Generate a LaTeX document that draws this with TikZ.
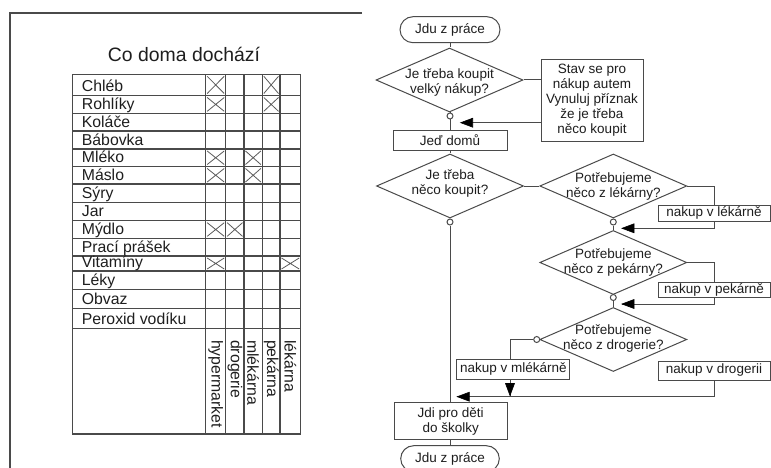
\documentclass[tikz,border=0pt]{standalone}
\usepackage{fontspec}
\setmainfont{Liberation Sans}
\usetikzlibrary{shapes.geometric,calc}
\definecolor{linec}{HTML}{4A4A4A}
\definecolor{tabc}{HTML}{4A4A4A}
\definecolor{xc}{HTML}{5A5A5A}
\definecolor{txtc}{HTML}{1E1E1E}
\tikzset{
  ln/.style={draw=linec, line width=1pt},
  fc/.style={font=\fontsize{13.5}{15}\selectfont, text=txtc},
  term/.style={ln, fc, rounded corners=13pt, minimum width=100pt, minimum height=26pt, inner sep=0pt},
  dec/.style={ln, diamond, inner sep=0pt, minimum width=147pt, minimum height=64pt},
  dtext/.style={fc, align=center, inner sep=0pt},
  box/.style={ln, fc, fill=white, inner sep=0pt, align=center},
  dot/.style={ln, circle, fill=white, inner sep=0pt, minimum size=6pt},
  tipc/.style={fill=black, draw=black, line width=0.6pt, line join=miter},
  tab/.style={draw=tabc, line width=1.2pt},
  xm/.style={draw=xc, line width=0.8pt},
  tt/.style={font=\fontsize{15.8}{18}\selectfont, text=txtc, inner sep=0pt}
}
\begin{document}
\begin{tikzpicture}[x=1pt,y=-1pt]
\useasboundingbox (0,0) rectangle (771,468);

% ---------- left panel ----------
\draw[tab] (362,13) -- (10,13) -- (10,470);
\node[font=\fontsize{19.4}{22}\selectfont, text=txtc, anchor=base, inner sep=0pt] (title) at (184,61.5) {Co doma dochází};

\foreach \y in {95.5,113.3,131,149,166.5,184,202.7,220.7,238.3,256,271,289.3,308.3,328.3}
  \draw[tab] (72.7,\y) -- (300.7,\y);
\foreach \x in {205.7,225.7,244,262.3,280}
  \draw[tab] (\x,74.3) -- (\x,434);
\draw[tab] (72.7,74.3) rectangle (300.7,434);

\foreach \n/\b/\t in {r1/95.5/Chléb, r2/113.3/Rohlíky, r3/131/Koláče, r4/149/Bábovka,
  r5/166.5/Mléko, r6/184/Máslo, r7/202.7/Sýry, r8/220.7/Jar, r9/238.3/Mýdlo,
  r10/256/Prací prášek, r11/271/Vitamíny, r12/289.3/Léky, r13/308.3/Obvaz,
  r14/328.3/Peroxid vodíku}
  \node[tt, anchor=base west] (\n) at (81.7,{\b-3.8}) {\t};

\foreach \xa/\xb/\ya/\yb in {205.7/225.7/74.3/95.5, 262.3/280/74.3/95.5,
  205.7/225.7/95.5/113.3, 262.3/280/95.5/113.3,
  205.7/225.7/149/166.5, 244/262.3/149/166.5,
  205.7/225.7/166.5/184, 244/262.3/166.5/184,
  205.7/225.7/220.7/238.3, 225.7/244/220.7/238.3,
  205.7/225.7/256/271, 280/300.7/256/271}
  \draw[xm] ({\xa+1.5},{\ya+2}) -- ({\xb-1.5},{\yb-2})
            ({\xa+1.5},{\yb-2}) -- ({\xb-1.5},{\ya+2});

\foreach \n/\x/\t in {h1/215.7/hypermarket, h2/234.9/drogerie, h3/253.2/mlékárna,
  h4/271.2/pekárna, h5/290.4/lékárna}
  \node[tt, rotate=-90, anchor=west] (\n) at (\x,340) {\t};

% ---------- flowchart ----------
\node[term] (t1) at (450,29.7) {Jdu z práce};
\node[dec] (d1) at (449.5,80) {};
\node[dtext] (d1t) at (449.5,82) {Je třeba koupit\\velký nákup?};
\node[dot] (c1) at (450,116) {};
\node[box, minimum width=114pt, minimum height=20pt] (b1) at (450,140.5) {Jeď domů};
\node[box, minimum width=102pt, minimum height=82pt] (s1) at (592,100.4)
  {Stav se pro\\nákup autem\\Vynuluj příznak\\že je třeba\\něco koupit};

\node[dec] (d2) at (450,186) {};
\node[dtext] (d2t) at (450,183) {Je třeba\\něco koupit?};
\node[dot] (c2) at (450,222) {};

\node[dec] (dl) at (613.3,186) {};
\node[dtext] (dlt) at (613.3,186) {Potřebujeme\\něco z lékárny?};
\node[dot] (cl) at (613.3,222) {};
\node[box, minimum width=112pt, minimum height=16pt] (bl) at (714,213) {nakup v lékárně};

\node[dec] (dp) at (613.3,262.5) {};
\node[dtext] (dpt) at (613.3,262.5) {Potřebujeme\\něco z pekárny?};
\node[dot] (cp) at (613.3,297.5) {};
\node[box, minimum width=112pt, minimum height=15pt] (bp) at (714,289.7) {nakup v pekárně};

\node[dec] (dd) at (613.3,339.5) {};
\node[dtext] (ddt) at (613.3,338.5) {Potřebujeme\\něco z drogerie?};
\node[dot] (cd) at (536.7,339.5) {};
\node[box, minimum width=113pt, minimum height=20pt] (bm) at (513.3,369.2) {nakup v mlékárně};
\node[box, minimum width=112pt, minimum height=19pt] (bd) at (714,370.5) {nakup v drogerii};

\node[box, minimum width=113pt, minimum height=36.6pt] (b2) at (450.7,421) {Jdi pro děti\\do školky};
\node[term, minimum width=98.6pt] (t2) at (450,458.7) {Jdu z práce};

% arrow end points
\coordinate (a1) at (460.7,122.7);
\coordinate (a2) at (622,228.3);
\coordinate (a3) at (622,304);
\coordinate (a4) at (457.3,396.7);
\coordinate (a5) at (510,395.5);

\draw[ln] (t1.south) -- (t1.south |- d1.north);
\draw[ln] (d1.south) -- (c1.north);
\draw[ln] (c1.south) -- (c1.south |- b1.north);
\draw[ln] (d1.east) -- (d1.east -| s1.west);
\draw[ln] (a1 -| s1.west) -- (a1);
\draw[ln] (b1.south) -- (b1.south |- d2.north);
\draw[ln] (d2.south) -- (c2.north);
\draw[ln] (c2.south) -- (c2.south |- b2.north);
\draw[ln] (d2.east) -- (dl.west);
\draw[ln] (dl.south) -- (cl.north);
\draw[ln] (cl.south) -- (dp.north);
\draw[ln] (dl.east) -| (bl.north);
\draw[ln] (bl.south) |- (a2);
\draw[ln] (dp.south) -- (cp.north);
\draw[ln] (cp.south) -- (dd.north);
\draw[ln] (dp.east) -| (bp.north);
\draw[ln] (bp.south) |- (a3);
\draw[ln] (dd.west) -- (cd.east);
\draw[ln] (cd.west) -| (a5 |- bm.north);
\draw[ln] (a5 |- bm.south) -- (a5);
\draw[ln] (bd.south) |- (a4);
\draw[ln] (b2.south -| t2.north) -- (t2.north);

% arrowheads (filled triangles at the arrow ends)
\filldraw[tipc] (a1) -- ($(a1)+(12,-4.5)$) -- ($(a1)+(12,4.5)$) -- cycle;
\filldraw[tipc] (a2) -- ($(a2)+(12,-4.5)$) -- ($(a2)+(12,4.5)$) -- cycle;
\filldraw[tipc] (a3) -- ($(a3)+(12,-4.5)$) -- ($(a3)+(12,4.5)$) -- cycle;
\filldraw[tipc] (a4) -- ($(a4)+(12,-4.5)$) -- ($(a4)+(12,4.5)$) -- cycle;
\filldraw[tipc] (a5) -- ($(a5)+(-4.5,-12)$) -- ($(a5)+(4.5,-12)$) -- cycle;
\end{tikzpicture}
\end{document}
